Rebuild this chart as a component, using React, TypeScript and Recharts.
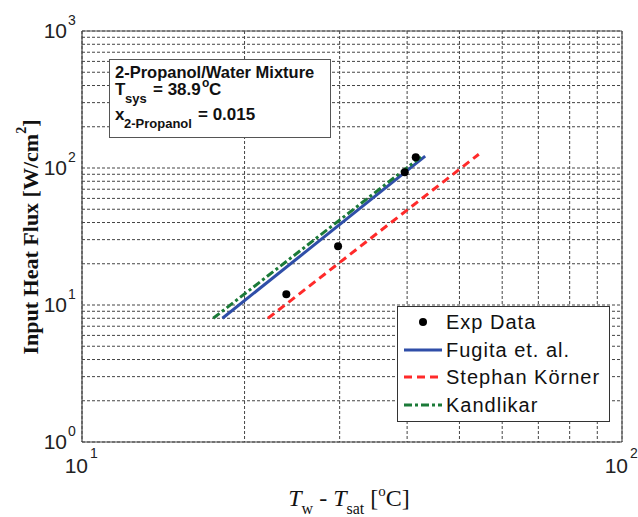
import {
  ComposedChart,
  Line,
  Scatter,
  XAxis,
  YAxis,
  CartesianGrid,
  ReferenceLine,
  Legend,
} from "recharts"

// log axis ticks (grid at every minor step, labels only at decades)
const xTicks = [10, 20, 30, 40, 50, 60, 70, 80, 90, 100]
const yTicks = [
  1, 2, 3, 4, 5, 6, 7, 8, 9, 10, 20, 30, 40, 50, 60, 70, 80, 90, 100, 200, 300, 400, 500, 600, 700,
  800, 900, 1000,
]

// measured points
const expDT = [23.9, 29.8, 39.6, 41.5]
const expFlux = [12.0, 26.8, 93, 120]

// correlations (straight lines on log-log, read at their ends)
const fugitaDT = [18.2, 43.2]
const fugitaFlux = [8.0, 122]
const stephanDT = [22.1, 54.3]
const stephanFlux = [8.0, 126]
const kandlikarDT = [17.5, 42.6]
const kandlikarFlux = [8.0, 122]

const names = ["Exp Data", "Fugita et. al.", "Stephan Körner", "Kandlikar"]

const zip = (xs: number[], ys: number[]) => xs.map((dt, i) => ({ dt, flux: ys[i] }))

const expData = zip(expDT, expFlux)
const fugitaData = zip(fugitaDT, fugitaFlux)
const stephanData = zip(stephanDT, stephanFlux)
const kandlikarData = zip(kandlikarDT, kandlikarFlux)

const BLUE = "#2f4ea8"
const RED = "#ff2a2a"
const GREEN = "#1b7a38"
const SANS = "'Liberation Sans', Arial, sans-serif"
const SERIF = "'Liberation Serif', 'Times New Roman', serif"

const isDecade = (v: number) => Math.abs(Math.log10(v) - Math.round(Math.log10(v))) < 1e-6

function XTick({ x, y, payload }: any) {
  if (!isDecade(payload.value)) return null
  const e = Math.round(Math.log10(payload.value))
  return (
    <g fontFamily={SANS} fill="#222">
      <text x={x + 6} y={y + 31} fontSize={21} textAnchor="end">
        10
      </text>
      <text x={x + 8} y={y + 16} fontSize={14}>
        {e}
      </text>
    </g>
  )
}

function YTick({ x, y, payload }: any) {
  if (!isDecade(payload.value)) return null
  const e = Math.round(Math.log10(payload.value))
  return (
    <g fontFamily={SANS} fill="#222">
      <text x={x - 15} y={y + 7} fontSize={21} textAnchor="end">
        10
      </text>
      <text x={x - 14} y={y - 6} fontSize={14}>
        {e}
      </text>
    </g>
  )
}

function XLabel({ viewBox }: any) {
  const cx = viewBox.x + 267
  return (
    <text x={cx} y={506} fontFamily={SERIF} fontSize={24} textAnchor="middle" fill="#111">
      <tspan fontStyle="italic">T</tspan>
      <tspan fontSize={16} dy={8}>
        w
      </tspan>
      <tspan dy={-8}> - </tspan>
      <tspan fontStyle="italic">T</tspan>
      <tspan fontSize={16} dy={8}>
        sat
      </tspan>
      <tspan dy={-8}> [</tspan>
      <tspan fontSize={15} dy={-10}>
        o
      </tspan>
      <tspan dy={10}>C]</tspan>
    </text>
  )
}

function YLabel() {
  return (
    <text
      x={30}
      y={237}
      transform="rotate(-90 30 237)"
      fontFamily={SERIF}
      fontWeight="bold"
      fontSize={22}
      textAnchor="middle"
      dominantBaseline="central"
      fill="#111"
    >
      Input Heat Flux [W/cm
      <tspan fontSize={14} dy={-9}>
        2
      </tspan>
      <tspan dy={9}>]</tspan>
    </text>
  )
}

const legendStyles = [
  { kind: "dot" },
  { kind: "line", color: BLUE, dash: undefined },
  { kind: "line", color: RED, dash: "8 5" },
  { kind: "line", color: GREEN, dash: "8 3 3 3" },
]

function LegendBox() {
  return (
    <div
      style={{
        width: 213,
        height: 116,
        boxSizing: "border-box",
        border: "1.5px solid #333",
        background: "#fff",
        paddingTop: 1,
        fontFamily: SANS,
        fontSize: 20,
        letterSpacing: 1,
        color: "#111",
      }}
    >
      {names.map((name, i) => {
        const s = legendStyles[i]
        return (
          <div key={name} style={{ display: "flex", alignItems: "center", height: 27.7 }}>
            <svg width={46} height={20} style={{ flex: "none" }}>
              {s.kind === "dot" ? (
                <circle cx={25} cy={10} r={4} fill="#000" />
              ) : (
                <line x1={6} x2={44} y1={10} y2={10} stroke={s.color} strokeWidth={3} strokeDasharray={s.dash} />
              )}
            </svg>
            <span style={{ marginLeft: 2, lineHeight: "20px" }}>{name}</span>
          </div>
        )
      })}
    </div>
  )
}

function InfoBox() {
  return (
    <div
      style={{
        position: "absolute",
        left: 109,
        top: 59,
        width: 222,
        height: 79,
        boxSizing: "border-box",
        border: "1.5px solid #555",
        background: "#fff",
      }}
    >
      <svg width={220} height={76} style={{ position: "absolute", left: -1.5, top: -1.5 }}>
        <g fontFamily={SANS} fontWeight="bold" fill="#111">
          <text x={6} y={19} fontSize={16.5}>
            2-Propanol/Water Mixture
          </text>
          <text x={6} y={36} fontSize={17}>
            T
          </text>
          <text x={16} y={44} fontSize={13}>
            sys
          </text>
          <text x={44} y={36} fontSize={17}>
            = 38.9
          </text>
          <text x={93} y={28} fontSize={12}>
            o
          </text>
          <text x={100} y={36} fontSize={17}>
            C
          </text>
          <text x={6} y={61} fontSize={17}>
            x
          </text>
          <text x={15} y={69} fontSize={13}>
            2-Propanol
          </text>
          <text x={89} y={61} fontSize={17}>
            = 0.015
          </text>
        </g>
      </svg>
    </div>
  )
}

export default function App() {
  return (
    <div style={{ position: "absolute", left: 0, top: 0, width: 638, height: 517, background: "#fff" }}>
      <ComposedChart width={638} height={517} margin={{ top: 31, right: 16, left: 0, bottom: 0 }}>
        <CartesianGrid stroke="#444" strokeDasharray="3 2" />
        <XAxis
          dataKey="dt"
          type="number"
          scale="log"
          domain={[10, 100]}
          ticks={xTicks}
          allowDataOverflow
          height={75}
          tickSize={0}
          tickMargin={0}
          tickLine={false}
          axisLine={{ stroke: "#444", strokeWidth: 1.2 }}
          tick={<XTick />}
          interval={0}
          label={{ content: <XLabel /> }}
        />
        <YAxis
          type="number"
          scale="log"
          domain={[1, 1000]}
          ticks={yTicks}
          allowDataOverflow
          width={82}
          tickSize={0}
          tickMargin={0}
          tickLine={false}
          axisLine={{ stroke: "#444", strokeWidth: 1.2 }}
          tick={<YTick />}
          interval={0}
          label={{ content: <YLabel /> }}
        />
        <ReferenceLine y={1000} stroke="#555" strokeWidth={1.2} />
        <ReferenceLine x={100} stroke="#555" strokeWidth={1.2} />
        <Scatter
          name={names[0]}
          data={expData}
          dataKey="flux"
          isAnimationActive={false}
          shape={(p: any) => <circle cx={p.cx} cy={p.cy} r={4} fill="#000" />}
        />
        <Line
          name={names[1]}
          data={fugitaData}
          dataKey="flux"
          type="linear"
          stroke={BLUE}
          strokeWidth={3}
          dot={false}
          isAnimationActive={false}
        />
        <Line
          name={names[2]}
          data={stephanData}
          dataKey="flux"
          type="linear"
          stroke={RED}
          strokeWidth={3}
          strokeDasharray="8 5"
          dot={false}
          isAnimationActive={false}
        />
        <Line
          name={names[3]}
          data={kandlikarData}
          dataKey="flux"
          type="linear"
          stroke={GREEN}
          strokeWidth={3}
          strokeDasharray="8 3 3 3"
          dot={false}
          isAnimationActive={false}
        />
        <Legend
          layout="horizontal"
          verticalAlign="middle"
          align="center"
          wrapperStyle={{ left: 397, top: 306, width: 213, height: 116 }}
          content={() => <LegendBox />}
        />
      </ComposedChart>
      <InfoBox />
    </div>
  )
}
